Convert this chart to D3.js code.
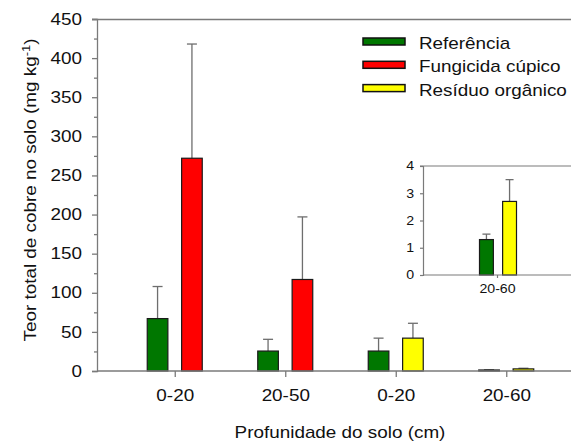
<!DOCTYPE html>
<html>
<head>
<meta charset="utf-8">
<script src="https://cdn.jsdelivr.net/npm/d3@7"></script>
<style>
  body { margin: 0; background: #fff; }
  text { font-family: "Liberation Sans", Arial, sans-serif; fill: #111; }
</style>
</head>
<body>
<div id="chart"></div>
<script>
// data
const categories = ["0-20", "20-50", "0-20", "20-60"];
const secondSeries = ["Fungicida cúpico", "Fungicida cúpico", "Resíduo orgânico", "Resíduo orgânico"];
const refMean = [67, 25.5, 25.5, 1.3];
const refErr = [41, 15, 16.5, 0.2];
const otherMean = [272, 117, 42, 2.7];
const otherErr = [146, 80, 19, 0.8];
const seriesNames = ["Referência", "Fungicida cúpico", "Resíduo orgânico"];
const seriesColors = ["#007700", "#ff0000", "#ffff00"];
const yTicks = [0, 50, 100, 150, 200, 250, 300, 350, 400, 450];
const insetTicks = [0, 1, 2, 3, 4];

const W = 571, H = 441;
const SX = 1.18; // reference text is a bit wider than Liberation Sans
const axisCol = "#7a7a7a", errCol = "#6e6e6e";
const color = d3.scaleOrdinal().domain(seriesNames).range(seriesColors);

const svg = d3.select("#chart").append("svg")
  .attr("width", W).attr("height", H);

// widen text horizontally around its own anchor
function stretch(sel) {
  sel.each(function() {
    const t = d3.select(this);
    const ax = +t.attr("x") || 0;
    t.attr("transform", `translate(${ax},0) scale(${SX},1) translate(${-ax},0)`);
  });
}

// rows: one per bar
const rows = [];
categories.forEach((c, i) => {
  rows.push({ i, slot: 0, name: "Referência", v: refMean[i], e: refErr[i] });
  rows.push({ i, slot: 1, name: secondSeries[i], v: otherMean[i], e: otherErr[i] });
});

function drawBars(g, data, x, inner, y, capW) {
  const bw = inner.bandwidth();
  const cx = d => x(d.i) + x.bandwidth() / 2 + inner(d.slot) + bw / 2;
  g.selectAll(".err").data(data).enter().append("line")
    .attr("x1", cx).attr("x2", cx)
    .attr("y1", d => y(d.v)).attr("y2", d => y(d.v + d.e))
    .attr("stroke", errCol).attr("stroke-width", 1.3);
  g.selectAll(".cap").data(data).enter().append("line")
    .attr("x1", d => cx(d) - capW / 2).attr("x2", d => cx(d) + capW / 2)
    .attr("y1", d => y(d.v + d.e)).attr("y2", d => y(d.v + d.e))
    .attr("stroke", errCol).attr("stroke-width", 1.3);
  g.selectAll(".bar").data(data).enter().append("rect")
    .attr("x", d => x(d.i) + x.bandwidth() / 2 + inner(d.slot))
    .attr("y", d => y(d.v))
    .attr("width", bw)
    .attr("height", d => y(0) - y(d.v))
    .attr("fill", d => color(d.name))
    .attr("stroke", "#1a1a1a").attr("stroke-width", 1.2);
}

// main chart
const x = d3.scaleBand().domain(d3.range(categories.length)).range([120, 562]);
const inner = d3.scaleBand().domain([0, 1]).range([-28, 27]).paddingInner(0.4);
const y = d3.scaleLinear().domain([0, 450]).range([371, 19]);

const main = svg.append("g");
drawBars(main, rows, x, inner, y, 10);

// frame lines
main.append("line").attr("x1", 92).attr("x2", W).attr("y1", 19.5).attr("y2", 19.5)
  .attr("stroke", axisCol).attr("stroke-width", 1.3);
main.append("line").attr("x1", 97).attr("x2", W).attr("y1", y(0)).attr("y2", y(0))
  .attr("stroke", axisCol).attr("stroke-width", 1.3);

main.append("g").attr("transform", "translate(97,0)")
  .call(d3.axisLeft(y).tickValues(yTicks).tickSize(5).tickPadding(10));
main.append("g").attr("transform", "translate(97,0)")
  .call(d3.axisLeft(y).tickValues(d3.range(25, 450, 50)).tickSize(3).tickFormat(""))
  .call(g => g.select(".domain").remove());
const xAxis = main.append("g").attr("transform", `translate(0,${y(0)})`)
  .call(d3.axisBottom(x).tickFormat(i => categories[i]).tickSize(6).tickPadding(13));
xAxis.select(".domain").remove();

main.selectAll(".domain, .tick line").attr("stroke", axisCol).attr("stroke-width", 1.3);
main.selectAll(".tick text").attr("font-size", 16).attr("fill", "#111")
  .style("font-family", "Liberation Sans, Arial, sans-serif")
  .call(stretch);

// axis titles
svg.append("text")
  .attr("transform", `translate(36,190) rotate(-90) scale(${SX},1)`)
  .attr("text-anchor", "middle").attr("font-size", 16)
  .html('Teor total de cobre no solo (mg kg<tspan dy="-6" font-size="11">-1</tspan><tspan dy="6">)</tspan>');
svg.append("text")
  .attr("transform", `translate(340,438) scale(${SX},1)`)
  .attr("text-anchor", "middle").attr("font-size", 16)
  .text("Profunidade do solo (cm)");

// legend
const legend = svg.append("g").attr("transform", "translate(363,41.5)");
seriesNames.forEach((s, k) => {
  const r = legend.append("g").attr("transform", `translate(0,${k * 23.3})`);
  r.append("rect").attr("x", 0).attr("y", -3.5).attr("width", 42).attr("height", 7)
    .attr("fill", color(s)).attr("stroke", "#111").attr("stroke-width", 1.5);
  r.append("text").attr("x", 56).attr("y", 7.5).attr("font-size", 16).text(s)
    .call(stretch);
});

// inset (last depth only)
const insetRows = rows.filter(d => d.i === categories.length - 1);
const xi = d3.scaleBand().domain([categories.length - 1]).range([460, 535]);
const innerI = d3.scaleBand().domain([0, 1]).range([-18, 19]).paddingInner(0.4);
const yi = d3.scaleLinear().domain([0, 4]).range([275, 166]);
const inset = svg.append("g");
drawBars(inset, insetRows, xi, innerI, yi, 8);
inset.append("line").attr("x1", 420).attr("x2", W).attr("y1", 166).attr("y2", 166)
  .attr("stroke", axisCol).attr("stroke-width", 1.2);
inset.append("line").attr("x1", 423).attr("x2", W).attr("y1", yi(0)).attr("y2", yi(0))
  .attr("stroke", axisCol).attr("stroke-width", 1.2);
inset.append("g").attr("transform", "translate(423,0)")
  .call(d3.axisLeft(yi).tickValues(insetTicks).tickFormat(d3.format("d")).tickSize(3).tickPadding(6));
const xiAxis = inset.append("g").attr("transform", `translate(0,${yi(0)})`)
  .call(d3.axisBottom(xi).tickFormat(i => categories[i]).tickSize(3).tickPadding(6));
xiAxis.select(".domain").remove();
inset.selectAll(".domain, .tick line").attr("stroke", axisCol).attr("stroke-width", 1.2);
inset.selectAll(".tick text").attr("font-size", 12).attr("fill", "#111")
  .style("font-family", "Liberation Sans, Arial, sans-serif")
  .call(stretch);
</script>
</body>
</html>
